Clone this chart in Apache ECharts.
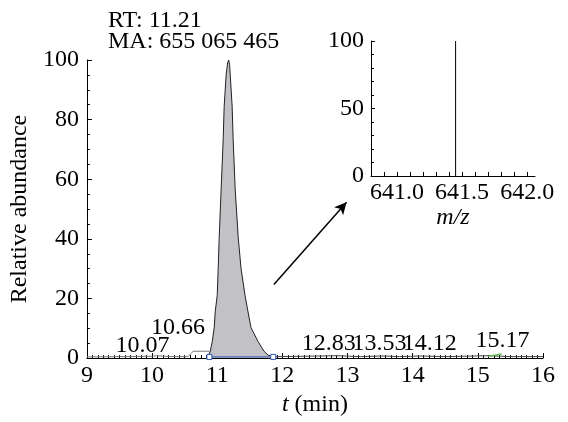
<!DOCTYPE html>
<html>
<head>
<meta charset="utf-8">
<script src="https://cdn.jsdelivr.net/npm/echarts@6/dist/echarts.min.js"></script>
<style>html,body{margin:0;padding:0;background:#fff}#c{width:568px;height:422px}</style>
</head>
<body>
<div id="c"></div>
<script>
// ---- data ----
var infoLines = ['RT: 11.21', 'MA: 655 065 465'];
var xTicks = [9, 10, 11, 12, 13, 14, 15, 16];
var yTicks = [0, 20, 40, 60, 80, 100];
// main chromatographic peak (t in min, relative abundance)
var peakT = [10.86, 10.893, 10.924, 10.954, 10.969, 11.0, 11.015, 11.031, 11.061, 11.092, 11.107, 11.137, 11.16, 11.176, 11.19, 11.229, 11.244, 11.275, 11.321, 11.366, 11.427, 11.473, 11.519, 11.626, 11.718, 11.78, 11.85];
var peakV = [0.5, 2.3, 5.6, 10.2, 15.5, 21, 30, 40.8, 57, 73.7, 84.5, 95, 99, 100, 98.5, 84.5, 73.7, 57, 40.8, 30, 21, 15.5, 10.2, 5.6, 2.3, 1.0, 0.5];
// baseline trace before / after the main peak
var baseT = [9.0, 9.5, 10.0, 10.07, 10.3, 10.55, 10.6, 10.63, 10.88];
var baseV = [0.4, 0.5, 0.6, 0.8, 0.5, 0.5, 1.5, 2.3, 2.3];
var tailT = [11.85, 12.3, 12.83, 13.2, 13.53, 13.8, 14.12, 14.5, 15.17, 15.5, 16.0];
var tailV = [0.5, 0.6, 0.8, 0.5, 0.7, 0.5, 0.7, 0.5, 0.8, 0.5, 0.5];
// peak annotations (text, position of label centre)
var peakLabels = ['10.07', '10.66', '12.83', '13.53', '14.12', '15.17'];
var peakLabelT = [9.855, 10.40, 12.71, 13.49, 14.26, 15.38];
var peakLabelV = [4.1, 10.2, 4.9, 4.9, 4.9, 5.8];
// integration marks
var integT = [10.88, 11.86];
var integV = [0.4, 0.4];
var greenT = [15.15, 15.37];
var greenV = [0.6, 1.4];
// arrow (data coordinates of main chart)
var arrowFrom = [11.87, 24.7];
var arrowTo = [12.985, 52.3];
// inset mass spectrum
var insetXTicks = [641.0, 641.5, 642.0];
var insetYTicks = [0, 50, 100];
var spikeMz = [641.45];
var spikeInt = [100];
var spikeLabel = ['641.4'];

var FONT = "'Liberation Serif','Times New Roman',serif";
var FS = 24;
function zip(a, b) { return a.map(function (v, i) { return [v, b[i]]; }); }
var minorInsetTicks = [];
for (var k = 0; k <= 12; k++) { minorInsetTicks.push(+(640.9 + k * 0.1).toFixed(1)); }

var chart = echarts.init(document.getElementById('c'));
chart.setOption({
  animation: false,
  backgroundColor: '#ffffff',
  title: {
    text: infoLines.join('\n'),
    left: 108, top: 10, padding: 0,
    textStyle: { fontFamily: FONT, fontSize: FS, fontWeight: 'normal', color: '#000', lineHeight: 21 }
  },
  grid: [
    { left: 85, top: 60, width: 458, height: 304 },
    { left: 371, top: 41, width: 164, height: 135 }
  ],
  xAxis: [{
    gridIndex: 0, type: 'value', min: xTicks[0], max: xTicks[xTicks.length - 1], interval: 1,
    name: '{i|t} (min)', nameLocation: 'middle', nameGap: 25,
    nameTextStyle: { fontFamily: FONT, fontSize: FS, color: '#000', rich: { i: { fontFamily: FONT, fontSize: FS, fontStyle: 'italic', color: '#000' } } },
    axisLine: { lineStyle: { color: '#000', width: 1 } },
    axisTick: { inside: true, length: 5, lineStyle: { color: '#000' } },
    minorTick: { show: true, splitNumber: 12, length: 3, lineStyle: { color: '#000' } },
    axisLabel: { fontFamily: FONT, fontSize: FS, color: '#000', margin: 6 },
    splitLine: { show: false }
  }, {
    gridIndex: 1, type: 'value', min: 640.8, max: 642.06,
    name: 'm/z', nameLocation: 'middle', nameGap: 26,
    nameTextStyle: { fontFamily: FONT, fontSize: FS, fontStyle: 'italic', color: '#000' },
    axisLine: { lineStyle: { color: '#000', width: 1 } },
    axisTick: { inside: true, length: 4, customValues: minorInsetTicks, lineStyle: { color: '#000' } },
    axisLabel: { fontFamily: FONT, fontSize: FS, color: '#000', margin: 5, customValues: insetXTicks,
      formatter: function (v) { return v.toFixed(1); } },
    splitLine: { show: false }
  }],
  yAxis: [{
    gridIndex: 0, type: 'value', min: 0, max: 100, interval: 20,
    name: 'Relative abundance', nameLocation: 'middle', nameGap: 47,
    nameTextStyle: { fontFamily: FONT, fontSize: FS, color: '#000' },
    axisLine: { show: true, lineStyle: { color: '#000', width: 1 } },
    axisTick: { show: true, inside: true, length: 5, lineStyle: { color: '#000' } },
    minorTick: { show: true, splitNumber: 4, length: 3, lineStyle: { color: '#000' } },
    axisLabel: { fontFamily: FONT, fontSize: FS, color: '#000', margin: 8 },
    splitLine: { show: false }
  }, {
    gridIndex: 1, type: 'value', min: 0, max: 100, interval: 50,
    axisLine: { show: true, lineStyle: { color: '#000', width: 1 } },
    axisTick: { show: true, inside: true, length: 4, lineStyle: { color: '#000' } },
    minorTick: { show: true, splitNumber: 5, length: 3, lineStyle: { color: '#000' } },
    axisLabel: { fontFamily: FONT, fontSize: FS, color: '#000', margin: 7 },
    splitLine: { show: false }
  }],
  series: [{
    type: 'line', xAxisIndex: 0, yAxisIndex: 0, data: zip(baseT, baseV),
    symbol: 'none', lineStyle: { color: '#777', width: 1 }
  }, {
    type: 'line', xAxisIndex: 0, yAxisIndex: 0, data: zip(tailT, tailV),
    symbol: 'none', lineStyle: { color: '#444', width: 1 }
  }, {
    type: 'line', xAxisIndex: 0, yAxisIndex: 0, data: zip(peakT, peakV),
    symbol: 'none', lineStyle: { color: '#222', width: 1 },
    areaStyle: { color: '#c2c2c6', opacity: 1 }
  }, {
    type: 'line', xAxisIndex: 0, yAxisIndex: 0, data: zip(integT, integV),
    symbol: 'rect', symbolSize: 5, itemStyle: { color: '#fff', borderColor: '#2f55b0', borderWidth: 1 },
    lineStyle: { color: '#2f55b0', width: 1 }
  }, {
    type: 'line', xAxisIndex: 0, yAxisIndex: 0, data: zip(greenT, greenV),
    symbol: 'none', lineStyle: { color: '#5cb848', width: 1.2 },
    markLine: {
      silent: true, symbol: ['none', 'arrow'], symbolSize: [9, 12],
      label: { show: false },
      lineStyle: { color: '#000', width: 1.5, type: 'solid' },
      data: [[{ coord: arrowFrom }, { coord: arrowTo }]]
    }
  }, {
    type: 'scatter', xAxisIndex: 0, yAxisIndex: 0,
    data: peakLabelT.map(function (t, i) { return { value: [t, peakLabelV[i]], name: peakLabels[i] }; }),
    symbolSize: 1, itemStyle: { color: '#fff', opacity: 0 },
    label: { show: true, position: 'inside', formatter: '{b}', fontFamily: FONT, fontSize: FS,
      color: '#000', opacity: 1, textBorderWidth: 0 }
  }, {
    type: 'line', xAxisIndex: 1, yAxisIndex: 1,
    data: [[spikeMz[0], 0], { value: [spikeMz[0], spikeInt[0]], name: spikeLabel[0],
      label: { show: true, position: 'top', distance: 2, formatter: '{b}', fontFamily: FONT, fontSize: FS, color: '#000' } }],
    symbol: 'none', lineStyle: { color: '#000', width: 1 }
  }]
});
</script>
</body>
</html>
